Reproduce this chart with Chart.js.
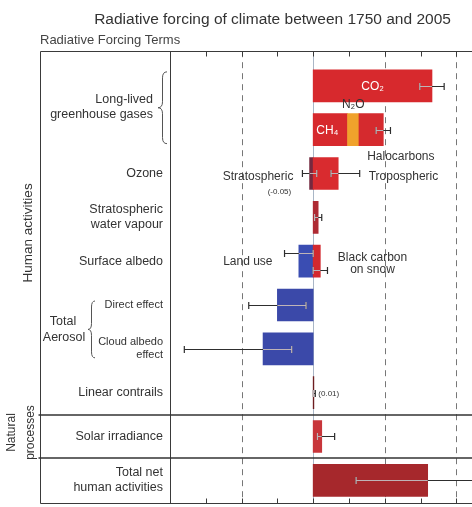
<!DOCTYPE html>
<html>
<head>
<meta charset="utf-8">
<script src="https://cdn.jsdelivr.net/npm/chart.js@4.4.1/dist/chart.umd.min.js"></script>
<style>
  html, body { margin: 0; padding: 0; overflow: hidden; background: #fff; }
  canvas { display: block; }
</style>
</head>
<body>
<canvas id="rf" width="505" height="507"></canvas>
<script>
// ---- Rows of the forcing table, top to bottom (left-panel labels) ----
const rowLabels = [
  '', '',                          // long-lived greenhouse gases (shared label)
  'Ozone',
  ['Stratospheric', 'water vapour'],
  'Surface albedo',
  'Direct effect',
  ['Cloud albedo', 'effect'],
  'Linear contrails',
  'Solar irradiance',
  ['Total net', 'human activities']
];

// ---- Forcing terms (W m-2), the row each one sits in ----
const terms   = ['CO₂', 'CH₄', 'N₂O', 'Halocarbons', 'Stratospheric ozone', 'Tropospheric ozone',
                 'Stratospheric water vapour', 'Land use', 'Black carbon on snow',
                 'Aerosol direct effect', 'Cloud albedo effect', 'Linear contrails',
                 'Solar irradiance', 'Total net human activities'];
const termRow = [0, 1, 1, 1, 2, 2, 3, 4, 4, 5, 6, 7, 8, 9];
const forcing = [1.66, 0.48, 0.16, 0.34, -0.05, 0.35, 0.07, -0.2, 0.1, -0.5, -0.7, 0.01, 0.12, 1.6];

// ---- Uncertainty ranges (W m-2) ----
const rangeNames = ['CO₂', 'CH₄ + N₂O + Halocarbons', 'Stratospheric ozone', 'Tropospheric ozone',
                    'Stratospheric water vapour', 'Land use', 'Black carbon on snow',
                    'Aerosol direct effect', 'Cloud albedo effect', 'Linear contrails',
                    'Solar irradiance', 'Total net human activities'];
const rangeRow  = [0, 1, 2, 2, 3, 4, 4, 5, 6, 7, 8, 9];
const rangeLow  = [1.49, 0.88, -0.15, 0.25, 0.02, -0.4, 0.0, -0.9, -1.8, 0.003, 0.06, 0.6];
const rangeHigh = [1.83, 1.08,  0.05, 0.65, 0.12,  0.0, 0.2, -0.1, -0.3, 0.03,  0.30, 2.4];

// ---- Horizontal axis ticks (W m-2) ----
const xTicks = [-2, -1.5, -1, -0.5, 0, 0.5, 1, 1.5, 2, 2.5];
const dashedAt = [-1, 1, 2];

const FONT = "'Liberation Sans', Arial, Helvetica, sans-serif";
const termColors = ['#d7292d', '#d7292d', '#f0a22c', '#d52a2e', '#75293f', '#d92b2f', '#ae2a33',
                    '#3a4db2', '#d3292f', '#3b49a9', '#3b49a9', '#6d1d20', '#c8363b', '#a6282c'];

// Terms in one row are stacked outward from zero
const segStart = [], segEnd = [];
const posAcc = {}, negAcc = {};
forcing.forEach((v, i) => {
  const r = termRow[i];
  if (v >= 0) { const s = posAcc[r] || 0; segStart.push(s); segEnd.push(s + v); posAcc[r] = s + v; }
  else        { const s = negAcc[r] || 0; segStart.push(s + v); segEnd.push(s); negAcc[r] = s + v; }
});
const rowMin = {}, rowMax = {};
termRow.forEach((r, i) => {
  rowMin[r] = Math.min(rowMin[r] ?? 0, segStart[i]);
  rowMax[r] = Math.max(rowMax[r] ?? 0, segEnd[i]);
});

const Y_MIN = -0.79, Y_MAX = 9.54;

function brace(ctx, xTip, xArm, top, bottom) {
  const mid = (top + bottom) / 2, xm = (xTip + xArm) / 2, r = Math.min(6, (bottom - top) / 4);
  ctx.beginPath();
  ctx.moveTo(xArm, top);
  ctx.quadraticCurveTo(xm, top, xm, top + r);
  ctx.lineTo(xm, mid - r);
  ctx.quadraticCurveTo(xm, mid, xTip, mid);
  ctx.quadraticCurveTo(xm, mid, xm, mid + r);
  ctx.lineTo(xm, bottom - r);
  ctx.quadraticCurveTo(xm, bottom, xArm, bottom);
  ctx.stroke();
}

function rangeLane(k) {
  let lane = 0;
  rangeRow.forEach((r2, j) => {
    if (j !== k && r2 === rangeRow[k] && rangeLow[j] <= rangeHigh[k] && rangeHigh[j] >= rangeLow[k]) {
      lane = j < k ? 1 : -1;
    }
  });
  return lane;
}

// Grid: dashed lines at whole units, faint solid zero line
const gridPlugin = {
  id: 'rfGrid',
  beforeDatasetsDraw(chart) {
    const { ctx, chartArea: a, scales: { x } } = chart;
    ctx.save();
    ctx.strokeStyle = '#777';
    ctx.lineWidth = 1;
    ctx.setLineDash([6, 5]);
    dashedAt.forEach(v => {
      const px = Math.round(x.getPixelForValue(v)) + 0.5;
      ctx.beginPath(); ctx.moveTo(px, a.top); ctx.lineTo(px, a.bottom); ctx.stroke();
    });
    ctx.setLineDash([]);
    ctx.strokeStyle = '#a9b6c6';
    const z = Math.round(x.getPixelForValue(0)) + 0.5;
    ctx.beginPath(); ctx.moveTo(z, a.top); ctx.lineTo(z, a.bottom); ctx.stroke();
    ctx.restore();
  }
};

// Uncertainty whiskers, labels beside the bars, frame and left-panel group labels
const overlayPlugin = {
  id: 'rfOverlay',
  afterDatasetsDraw(chart) {
    const { ctx, scales: { x, y } } = chart;
    ctx.save();

    // whiskers
    rangeRow.forEach((r, k) => {
      const py = Math.round(y.getPixelForValue(r) + rangeLane(k) * 8.5) + 0.5;
      const x1 = x.getPixelForValue(rangeLow[k]), x2 = x.getPixelForValue(rangeHigh[k]);
      const cap = 3.5;
      ctx.lineWidth = 1.2;
      ctx.strokeStyle = '#2e2e2e';
      ctx.beginPath();
      ctx.moveTo(x1, py); ctx.lineTo(x2, py);
      ctx.moveTo(x1, py - cap); ctx.lineTo(x1, py + cap);
      ctx.moveTo(x2, py - cap); ctx.lineTo(x2, py + cap);
      ctx.stroke();
      const lo = Math.max(rangeLow[k], rowMin[r]), hi = Math.min(rangeHigh[k], rowMax[r]);
      if (hi > lo) {
        ctx.strokeStyle = 'rgba(240,225,230,0.75)';
        ctx.beginPath();
        ctx.moveTo(x.getPixelForValue(lo), py); ctx.lineTo(x.getPixelForValue(hi), py);
        [rangeLow[k], rangeHigh[k]].forEach(v => {
          if (v > rowMin[r] && v < rowMax[r]) {
            const px = x.getPixelForValue(v);
            ctx.moveTo(px, py - cap); ctx.lineTo(px, py + cap);
          }
        });
        ctx.stroke();
      }
    });

    // text beside the bars
    const segMid = i => x.getPixelForValue((segStart[i] + segEnd[i]) / 2);
    const rowY = r => y.getPixelForValue(r);
    const half = 16;
    ctx.textBaseline = 'middle';
    ctx.font = '12px ' + FONT;

    ctx.fillStyle = '#fff';
    ctx.textAlign = 'center';
    ctx.fillText('CO₂', segMid(0), rowY(0) + 1);
    ctx.fillText('CH₄', segMid(1) - 3, rowY(1) + 1);

    ctx.fillStyle = '#333';
    ctx.fillText('N₂O', segMid(2), rowY(1) - half - 9);
    ctx.textAlign = 'left';
    ctx.fillText('Halocarbons', segMid(3) - 4, rowY(1) + half + 11);

    const oy = rowY(2) + 3;
    ctx.textAlign = 'right';
    ctx.fillText('Stratospheric', x.getPixelForValue(rangeLow[2]) - 9, oy);
    ctx.textAlign = 'left';
    ctx.fillText('Tropospheric', x.getPixelForValue(rangeHigh[3]) + 9, oy);

    ctx.textAlign = 'right';
    ctx.fillText('Land use', x.getPixelForValue(rangeLow[5]) - 12, rowY(4) + 1);
    ctx.textAlign = 'center';
    const bcx = x.getPixelForValue(rangeHigh[6]) + 45;
    ctx.fillText('Black carbon', bcx, rowY(4) - 3);
    ctx.fillText('on snow', bcx, rowY(4) + 9);

    ctx.font = '8px ' + FONT;
    ctx.fillText('(-0.05)', x.getPixelForValue(rangeLow[2]) - 23, oy + 15);
    ctx.textAlign = 'left';
    ctx.fillText('(0.01)', x.getPixelForValue(rangeHigh[9]) + 3, rowY(7) + 1);

    ctx.restore();
  },
  afterDraw(chart) {
    const { ctx, chartArea: a, scales: { x, y } } = chart;
    const W = chart.width, L = 40.5;
    ctx.save();
    ctx.strokeStyle = '#3a3a3a';
    ctx.lineWidth = 1;
    const top = Math.round(a.top) + 0.5, bot = Math.round(a.bottom) - 0.5;
    ctx.beginPath();
    ctx.moveTo(L, top); ctx.lineTo(W, top);
    ctx.moveTo(L, bot); ctx.lineTo(W, bot);
    ctx.moveTo(L, top); ctx.lineTo(L, bot);
    const div = Math.round(a.left) + 0.5;
    ctx.moveTo(div, top); ctx.lineTo(div, bot);
    xTicks.forEach(v => {
      if (v === xTicks[0]) return;
      const px = Math.round(x.getPixelForValue(v)) + 0.5;
      ctx.moveTo(px, top); ctx.lineTo(px, top + 5);
      ctx.moveTo(px, bot); ctx.lineTo(px, bot - 5);
    });
    ctx.stroke();

    // section separators: human activities | natural processes | net
    ctx.lineWidth = 1.6;
    ctx.strokeStyle = '#333';
    [[7, 8], [8, 9]].forEach(([r1, r2]) => {
      const py = Math.round((y.getPixelForValue(r1) + y.getPixelForValue(r2)) / 2);
      ctx.beginPath(); ctx.moveTo(L - 2, py); ctx.lineTo(W, py); ctx.stroke();
    });

    // braces
    ctx.lineWidth = 1;
    ctx.strokeStyle = '#555';
    brace(ctx, 158, 167, y.getPixelForValue(0) - 14, y.getPixelForValue(1) + 14);
    brace(ctx, 88, 95, y.getPixelForValue(5) - 4, y.getPixelForValue(6) + 9);

    // group labels
    ctx.fillStyle = '#333';
    ctx.font = '12.5px ' + FONT;
    ctx.textBaseline = 'middle';
    ctx.textAlign = 'right';
    const gm = (y.getPixelForValue(0) + y.getPixelForValue(1)) / 2 - 1;
    ctx.fillText('Long-lived', 153, gm - 7.5);
    ctx.fillText('greenhouse gases', 153, gm + 7.5);
    ctx.textAlign = 'center';
    const am = (y.getPixelForValue(5) - 4 + y.getPixelForValue(6) + 9) / 2;
    ctx.fillText('Total', 63, am - 8);
    ctx.fillText('Aerosol', 64, am + 8);

    // rotated section titles
    const sep1 = (y.getPixelForValue(7) + y.getPixelForValue(8)) / 2;
    const sep2 = (y.getPixelForValue(8) + y.getPixelForValue(9)) / 2;
    ctx.save();
    ctx.translate(28, (a.top + sep1) / 2);
    ctx.rotate(-Math.PI / 2);
    ctx.font = '13.5px ' + FONT;
    ctx.fillText('Human activities', 0, 0);
    ctx.restore();
    ctx.save();
    ctx.translate(0, (sep1 + sep2) / 2 - 4);
    ctx.rotate(-Math.PI / 2);
    ctx.font = '12px ' + FONT;
    ctx.fillText('Natural', 0, 12);
    ctx.fillText('processes', 0, 31);
    ctx.restore();

    ctx.restore();
  }
};

new Chart(document.getElementById('rf'), {
  type: 'bar',
  data: {
    datasets: [{
      label: 'Radiative forcing (W m-2)',
      data: terms.map((t, i) => ({ x: [segStart[i], segEnd[i]], y: termRow[i] })),
      backgroundColor: termColors,
      borderWidth: 0,
      barThickness: 32,
      grouped: false
    }]
  },
  options: {
    indexAxis: 'y',
    responsive: false,
    animation: false,
    layout: { padding: { left: 40, right: 0, top: 0, bottom: 3 } },
    plugins: {
      legend: { display: false },
      tooltip: { enabled: false },
      title: {
        display: true,
        text: 'Radiative forcing of climate between 1750 and 2005',
        color: '#333',
        font: { family: FONT, size: 15.5, weight: 'normal' },
        padding: { top: 10, bottom: 4 }
      },
      subtitle: {
        display: true,
        text: 'Radiative Forcing Terms',
        align: 'start',
        color: '#444',
        font: { family: FONT, size: 13, weight: 'normal' },
        padding: { top: 0, bottom: 3 }
      }
    },
    scales: {
      x: {
        type: 'linear',
        min: -2,
        max: 2.68,
        display: false
      },
      y: {
        type: 'linear',
        reverse: true,
        offset: false,
        bounds: 'data',
        min: Y_MIN,
        max: Y_MAX,
        afterBuildTicks: s => {
          s.ticks = rowLabels.map((l, i) => ({ value: i }));
          s.min = Y_MIN;
          s.max = Y_MAX;
        },
        afterFit: s => { s.width = 130; s.paddingTop = 0; s.paddingBottom = 0; },
        grid: { display: false, drawTicks: false, offset: false },
        border: { display: false },
        ticks: {
          padding: 7,
          color: '#333',
          autoSkip: false,
          font: c => ({ family: FONT, size: (c.tick && (c.tick.value === 5 || c.tick.value === 6)) ? 11 : 12.5 }),
          callback: v => rowLabels[v] ?? ''
        }
      }
    }
  },
  plugins: [gridPlugin, overlayPlugin]
});
</script>
</body>
</html>
